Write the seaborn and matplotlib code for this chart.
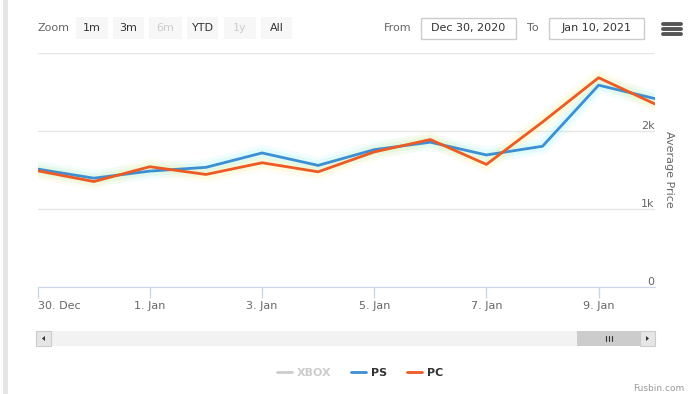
import pandas as pd
import matplotlib.pyplot as plt
import seaborn as sns
from matplotlib.lines import Line2D
from matplotlib.patches import Rectangle, Polygon

# --- data ---
dates = pd.date_range("2020-12-30", "2021-01-10", freq="D")
ps_price = [1510, 1393, 1484, 1532, 1717, 1557, 1759, 1855, 1691, 1803, 2587, 2415]
pc_price = [1488, 1350, 1540, 1441, 1591, 1475, 1730, 1889, 1570, 2114, 2683, 2347]
legend_names = ["XBOX", "PS", "PC"]
y_ticks = [0, 1000, 2000, 3000]
y_labels = ["0", "1k", "2k", ""]
x_ticks = pd.to_datetime(["2020-12-30", "2021-01-01", "2021-01-03",
                          "2021-01-05", "2021-01-07", "2021-01-09"])
x_labels = ["30. Dec", "1. Jan", "3. Jan", "5. Jan", "7. Jan", "9. Jan"]
zoom_buttons = ["1m", "3m", "6m", "YTD", "1y", "All"]
zoom_enabled = [True, True, False, True, False, True]
date_from = "Dec 30, 2020"
date_to = "Jan 10, 2021"

colors = {"XBOX": "#cccccc", "PS": "#3d8fd4", "PC": "#ee5a24"}
glow = {"PS": "#8ff2f2", "PC": "#fbef8a"}

df = pd.DataFrame({
    "Date": list(dates) * 2,
    "Platform": ["PS"] * len(dates) + ["PC"] * len(dates),
    "Price": ps_price + pc_price,
})

sns.set_style("white")
plt.rcParams["font.family"] = ["DejaVu Sans"]

W, H = 688, 394
fig = plt.figure(figsize=(W / 100, H / 100), dpi=100)


def px(x, y):
    # pixel position (from top-left) -> figure fraction
    return x / W, 1 - y / H


ax = fig.add_axes([37.7 / W, 1 - 286.7 / H, (654.7 - 37.7) / W, (286.7 - 53) / H])

# soft glow under the lines
for name in ["PS", "PC"]:
    sub = df[df["Platform"] == name]
    for lw, a in [(12, 0.10), (7, 0.18)]:
        sns.lineplot(data=sub, x="Date", y="Price", color=glow[name], linewidth=lw,
                     alpha=a, ax=ax, legend=False)

sns.lineplot(data=df, x="Date", y="Price", hue="Platform", hue_order=["PS", "PC"],
             palette=colors, linewidth=2, ax=ax, legend=False)

ax.set_xlim(dates[0], dates[-1])
ax.set_ylim(0, 3000)
ax.set_yticks(y_ticks)
ax.yaxis.tick_right()
ax.set_yticklabels(y_labels, ha="right", va="bottom", color="#666666", fontsize=8)
ax.tick_params(axis="y", length=0, pad=0)
ax.grid(axis="y", color="#e6e6e6", linewidth=1)
ax.grid(axis="x", visible=False)

ax.set_xticks(x_ticks)
ax.set_xticklabels(x_labels, color="#666666", fontsize=8)
ax.get_xticklabels()[0].set_ha("left")
ax.tick_params(axis="x", bottom=True, direction="out", length=8, width=1,
               color="#ccd6eb", pad=2)

for side in ["top", "left", "right"]:
    ax.spines[side].set_visible(False)
ax.spines["bottom"].set_color("#ccd6eb")

ax.set_xlabel("")
ax.set_ylabel("Average Price", color="#666666", fontsize=8, rotation=270)
ax.yaxis.set_label_position("right")
ax.yaxis.set_label_coords((669 - 37.7) / (654.7 - 37.7), 0.5)
ax.yaxis.label.set_va("center")
ax.yaxis.label.set_ha("center")

# legend (XBOX series hidden)
handles = [Line2D([], [], color=colors[n], linewidth=2) for n in legend_names]
leg = fig.legend(handles, legend_names, loc="center", bbox_to_anchor=px(360, 373),
                 ncol=3, frameon=False, handlelength=1.35, handletextpad=0.45,
                 columnspacing=1.8, prop={"weight": "bold", "size": 8})
for t, n in zip(leg.get_texts(), legend_names):
    t.set_color("#cccccc" if n == "XBOX" else "#333333")

# --- range selector on top ---
fig.text(*px(38, 28), "Zoom", ha="left", va="center", fontsize=8, color="#666666")
btn_x = [76, 113, 149, 187, 224, 261]
btn_w = [32, 31, 33, 31, 32, 31]
for label, on, x0, w in zip(zoom_buttons, zoom_enabled, btn_x, btn_w):
    fig.add_artist(Rectangle(px(x0, 39), w / W, 22 / H, transform=fig.transFigure,
                             facecolor="#f7f7f7", edgecolor="none"))
    fig.text(*px(x0 + w / 2, 28), label, ha="center", va="center", fontsize=8,
             color="#333333" if on else "#cccccc", fontweight="medium")

fig.text(*px(384, 28), "From", ha="left", va="center", fontsize=8, color="#666666")
fig.text(*px(527, 28), "To", ha="left", va="center", fontsize=8, color="#666666")
for x0, x1, txt in [(421, 516, date_from), (549, 644, date_to)]:
    fig.add_artist(Rectangle(px(x0, 39), (x1 - x0) / W, 21 / H, transform=fig.transFigure,
                             facecolor="white", edgecolor="#cccccc", linewidth=1))
    fig.text(*px((x0 + x1) / 2, 28), txt, ha="center", va="center", fontsize=8,
             color="#333333")

# menu icon
for yy in [24, 29, 34]:
    fig.add_artist(Line2D([663 / W, 681 / W], [1 - yy / H] * 2, transform=fig.transFigure,
                          color="#555555", linewidth=2.8))

# --- scrollbar ---
fig.add_artist(Rectangle(px(36, 346), (655 - 36) / W, 15 / H, transform=fig.transFigure,
                         facecolor="#f2f2f2", edgecolor="none"))
fig.add_artist(Rectangle(px(577, 346), (640 - 577) / W, 15 / H, transform=fig.transFigure,
                         facecolor="#cccccc", edgecolor="none"))
for x0 in [36, 640]:
    fig.add_artist(Rectangle(px(x0, 346), 15 / W, 15 / H, transform=fig.transFigure,
                             facecolor="#e6e6e6", edgecolor="#cccccc", linewidth=0.8))
fig.add_artist(Polygon([px(45, 336), px(45, 341), px(42, 338.5)], closed=True,
                       transform=fig.transFigure, facecolor="#333333", edgecolor="none"))
fig.add_artist(Polygon([px(646, 336), px(646, 341), px(649, 338.5)], closed=True,
                       transform=fig.transFigure, facecolor="#333333", edgecolor="none"))
for gx in [605.5, 608.5, 611.5]:
    fig.add_artist(Line2D([gx / W] * 2, [1 - 335.5 / H, 1 - 341 / H],
                          transform=fig.transFigure, color="#333333", linewidth=0.8))

# left border of the page
fig.add_artist(Rectangle((3 / W, 0), 5 / W, 1, transform=fig.transFigure,
                         facecolor="#e6e6e6", edgecolor="none"))

# credits
fig.text(*px(684, 393), "Fusbin.com", ha="right", va="bottom", fontsize=6.5,
         color="#999999")

fig.savefig("out.png", dpi=100)
